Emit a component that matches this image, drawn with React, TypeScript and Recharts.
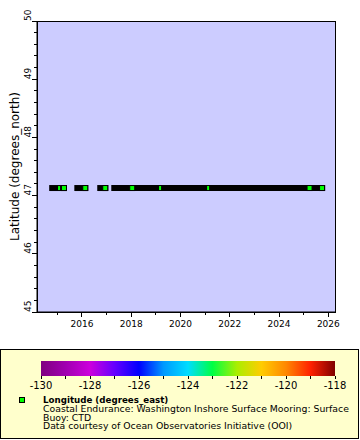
import React from 'react';
import { ComposedChart, Line, Scatter, XAxis, YAxis, ReferenceArea, Label } from 'recharts';

// buoy position and the deployment periods (decimal years)
const LATITUDE = 47.13;
const SEGMENT_START = [2014.67, 2015.69, 2016.62, 2017.19];
const SEGMENT_END = [2015.39, 2016.255, 2017.07, 2025.87];
// samples that show through as separate green squares
const MARKER_TIME = [2015.27, 2016.134, 2016.945, 2018.04, 2025.237, 2025.745];
// short gaps where only a sliver of a marker shows
const GAP_TIME = [2015.07, 2019.17, 2021.12];

const X_DOMAIN = [2014.175, 2026.27];
const X_TICKS = [2015, 2016, 2017, 2018, 2019, 2020, 2021, 2022, 2023, 2024, 2025, 2026];
const X_LABELS = [2016, 2018, 2020, 2022, 2024, 2026];
const Y_DOMAIN = [45, 50];
const Y_LABELS = [45, 46, 47, 48, 49, 50];

const CB_DOMAIN = [-130, -118];
const CB_TICKS = [-130, -129, -128, -127, -126, -125, -124, -123, -122, -121, -120, -119, -118];
const CB_LABELS = [-130, -128, -126, -124, -122, -120, -118];
const CB_COLORS = [
  '#800080', '#a000b0', '#cc00dd', '#6600ff', '#0000ff', '#0099ff',
  '#00ddff', '#00ff44', '#aaee00', '#ffcc00', '#ff8800', '#ff2200', '#800000',
];

const MARKER_FILL = '#00ff00';
const FONT = '"DejaVu Sans", sans-serif';

const yTicks: number[] = [];
for (let i = 0; i <= 25; i++) yTicks.push(Math.round((45 + i * 0.2) * 10) / 10);

const XTick = (props: any) => {
  const { x, y, payload } = props;
  const major = X_LABELS.includes(payload.value);
  return (
    <g>
      <line x1={x} x2={x} y1={y} y2={y + (major ? 5 : 3)} stroke="#000" shapeRendering="crispEdges" />
      {major && (
        <text x={x} y={y + 15} textAnchor="middle" fontSize={9} fill="#000" fontFamily={FONT}>
          {payload.value}
        </text>
      )}
    </g>
  );
};

const YTick = (props: any) => {
  const { x, y, payload } = props;
  const major = Y_LABELS.includes(payload.value);
  return (
    <g>
      <line x1={x - (major ? 5 : 3)} x2={x} y1={y} y2={y} stroke="#000" shapeRendering="crispEdges" />
      {major && (
        <text
          x={x - 6}
          y={y}
          transform={`rotate(-90 ${x - 6} ${y})`}
          textAnchor="start"
          fontSize={9}
          fill="#000"
          fontFamily={FONT}
        >
          {payload.value}
        </text>
      )}
    </g>
  );
};

const CbTick = (props: any) => {
  const { x, y, payload } = props;
  const major = CB_LABELS.includes(payload.value);
  return (
    <g>
      <line x1={x} x2={x} y1={y} y2={y + 3} stroke="#000" shapeRendering="crispEdges" />
      {major && (
        <text x={x} y={y + 12.5} textAnchor="middle" fontSize={10} fill="#000" fontFamily={FONT}>
          {payload.value}
        </text>
      )}
    </g>
  );
};

const SquareMarker = (props: any) => (
  <rect
    x={props.cx - 2.5}
    y={props.cy - 2.5}
    width={5}
    height={5}
    fill={MARKER_FILL}
    stroke="#000"
    strokeWidth={1}
  />
);

const GapMarker = (props: any) => (
  <rect x={props.cx - 1} y={props.cy - 2} width={2} height={4} fill={MARKER_FILL} />
);

export default function App() {
  const markers = MARKER_TIME.map((t) => ({ t, lat: LATITUDE }));
  const gaps = GAP_TIME.map((t) => ({ t, lat: LATITUDE }));

  return (
    <div style={{ position: 'absolute', left: 0, top: 0, width: 360, height: 440, background: '#fff', fontFamily: FONT }}>
      <ComposedChart width={360} height={345} margin={{ top: 21, right: 25, left: 0, bottom: 0 }}>
        <ReferenceArea
          x1={X_DOMAIN[0]}
          x2={X_DOMAIN[1]}
          y1={Y_DOMAIN[0]}
          y2={Y_DOMAIN[1]}
          fill="#ccccff"
          fillOpacity={1}
          stroke="#000"
          shapeRendering="crispEdges"
        />
        <XAxis
          type="number"
          dataKey="t"
          domain={X_DOMAIN}
          allowDataOverflow
          ticks={X_TICKS}
          interval={0}
          height={33}
          tickSize={0}
          tickMargin={0}
          tickLine={false}
          tick={<XTick />}
          axisLine={{ stroke: '#000' }}
        />
        <YAxis
          type="number"
          dataKey="lat"
          domain={Y_DOMAIN}
          allowDataOverflow
          ticks={yTicks}
          interval={0}
          width={37}
          tickSize={0}
          tickMargin={0}
          tickLine={false}
          tick={<YTick />}
          axisLine={{ stroke: '#000' }}
        >
          <Label
            content={(p: any) => {
              const vb = p.viewBox;
              const cy = vb.y + vb.height / 2;
              return (
                <text
                  x={19}
                  y={cy}
                  transform={`rotate(-90 19 ${cy})`}
                  textAnchor="middle"
                  fontSize={12}
                  fill="#000"
                  fontFamily={FONT}
                >
                  Latitude (degrees_north)
                </text>
              );
            }}
          />
        </YAxis>
        {SEGMENT_START.map((s, i) => (
          <Line
            key={i}
            data={[
              { t: s, lat: LATITUDE },
              { t: SEGMENT_END[i], lat: LATITUDE },
            ]}
            dataKey="lat"
            type="linear"
            stroke="#000"
            strokeWidth={6}
            dot={false}
            activeDot={false}
            isAnimationActive={false}
          />
        ))}
        <Scatter data={gaps} dataKey="lat" shape={GapMarker} isAnimationActive={false} />
        <Scatter data={markers} dataKey="lat" shape={SquareMarker} isAnimationActive={false} />
      </ComposedChart>

      <svg width={360} height={91} style={{ position: 'absolute', left: 0, top: 349 }}>
        <defs>
          <linearGradient id="rainbow" x1="0" y1="0" x2="1" y2="0">
            {CB_COLORS.map((c, i) => (
              <stop key={i} offset={i / (CB_COLORS.length - 1)} stopColor={c} />
            ))}
          </linearGradient>
        </defs>
        <rect x={0.5} y={0.5} width={358} height={89} fill="#ffffcc" stroke="#000" />
        <rect x={19.5} y={48.5} width={5} height={5} fill={MARKER_FILL} stroke="#000" />
        <text x={43} y={54} fontSize={8.7} fontWeight="bold" fill="#000" fontFamily={FONT}>
          Longitude (degrees_east)
        </text>
        <text x={43} y={62.8} fontSize={9.3} fill="#000" fontFamily={FONT}>
          Coastal Endurance: Washington Inshore Surface Mooring: Surface
        </text>
        <text x={43} y={71.6} fontSize={9.3} fill="#000" fontFamily={FONT}>
          Buoy: CTD
        </text>
        <text x={43} y={80.4} fontSize={9.3} fill="#000" fontFamily={FONT}>
          Data courtesy of Ocean Observatories Initiative (OOI)
        </text>
      </svg>

      <div style={{ position: 'absolute', left: 0, top: 349 }}>
        <ComposedChart
          width={360}
          height={45}
          margin={{ top: 12, right: 25, left: 41, bottom: 0 }}
          data={CB_DOMAIN.map((v) => ({ v, y: 1 }))}
        >
          <XAxis
            type="number"
            dataKey="v"
            domain={CB_DOMAIN}
            allowDataOverflow
            ticks={CB_TICKS}
            interval={0}
            height={18}
            tickSize={0}
            tickMargin={0}
            tickLine={false}
            axisLine={false}
            tick={<CbTick />}
          />
          <YAxis type="number" dataKey="y" domain={[0, 1]} allowDataOverflow hide />
          <ReferenceArea
            x1={CB_DOMAIN[0]}
            x2={CB_DOMAIN[1]}
            y1={0}
            y2={1}
            fill="url(#rainbow)"
            fillOpacity={1}
            stroke="none"
            ifOverflow="visible"
          />
        </ComposedChart>
      </div>
    </div>
  );
}
